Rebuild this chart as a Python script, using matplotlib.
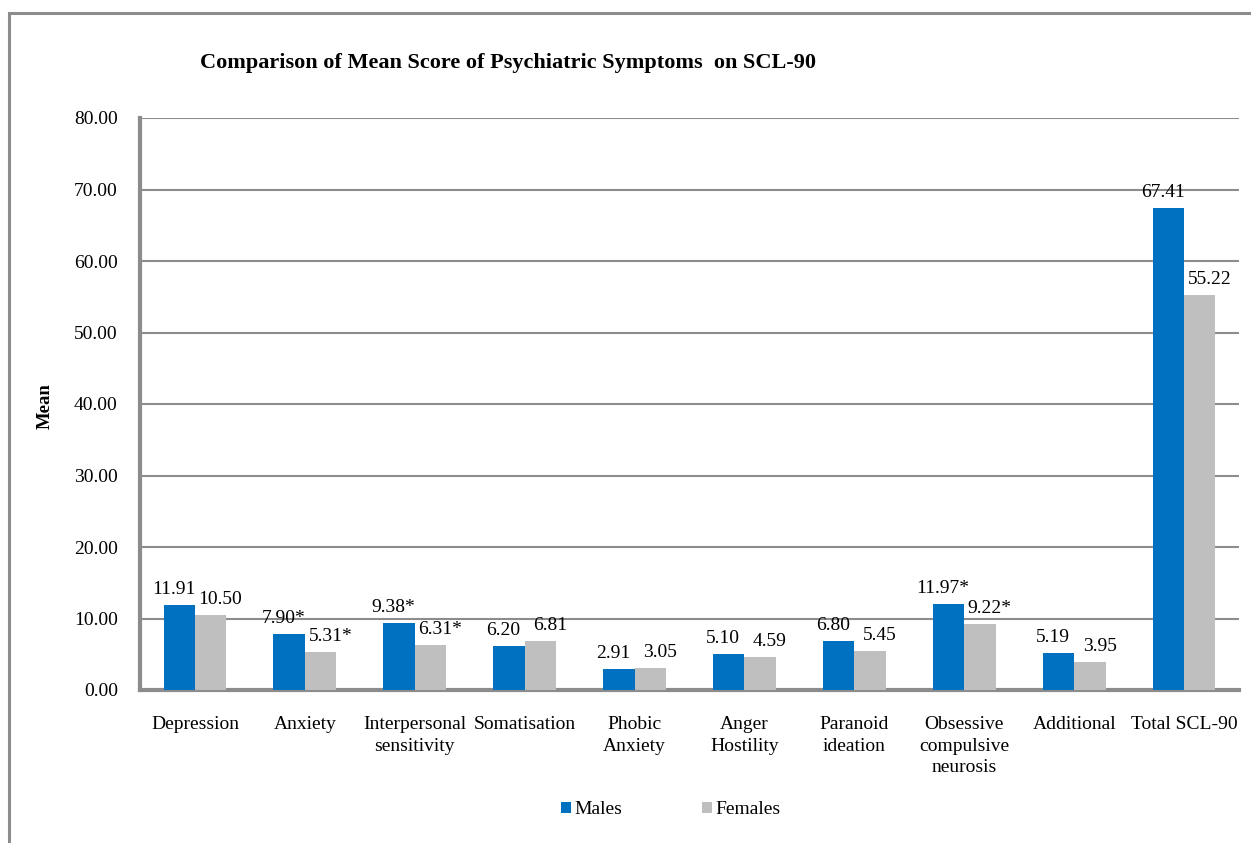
import matplotlib
matplotlib.use("Agg")
import matplotlib.pyplot as plt
import numpy as np
from matplotlib.patches import Rectangle

categories = ["Depression", "Anxiety", "Interpersonal\nsensitivity", "Somatisation",
              "Phobic\nAnxiety", "Anger\nHostility", "Paranoid\nideation",
              "Obsessive\ncompulsive\nneurosis", "Additional", "Total SCL-90"]
males = [11.91, 7.90, 9.38, 6.20, 2.91, 5.10, 6.80, 11.97, 5.19, 67.41]
females = [10.50, 5.31, 6.31, 6.81, 3.05, 4.59, 5.45, 9.22, 3.95, 55.22]
male_labels = ["11.91", "7.90*", "9.38*", "6.20", "2.91", "5.10", "6.80", "11.97*", "5.19", "67.41"]
female_labels = ["10.50", "5.31*", "6.31*", "6.81", "3.05", "4.59", "5.45", "9.22*", "3.95", "55.22"]
yticks = [0, 10, 20, 30, 40, 50, 60, 70, 80]

plt.rcParams['font.family'] = ['Liberation Serif', 'DejaVu Serif']

fig = plt.figure(figsize=(12.51, 8.43), dpi=100)
ax = fig.add_axes([140/1251, 1-690/843, (1239-140)/1251, (690-118)/843])

# outer frame
fig.patches.append(Rectangle((9/1251, -0.05), 1.1, 0.05 + 1 - 13/843, transform=fig.transFigure,
                             fill=False, edgecolor='#8c8c8c', linewidth=2.2, zorder=0))

x = np.arange(len(categories))
w = 0.286
blue = '#0070C0'
gray = '#BFBFBF'
fs = 14
bm = ax.bar(x - w/2, males, w, color=blue, label='Males', zorder=3)
bf = ax.bar(x + w/2, females, w, color=gray, label='Females', zorder=3)

for rect, lab in zip(bm, male_labels):
    ax.annotate(lab, (rect.get_x() + rect.get_width()/2, rect.get_height()),
                xytext=(-4, 5), textcoords='offset points', ha='center', va='bottom', fontsize=fs)
for rect, lab in zip(bf, female_labels):
    ax.annotate(lab, (rect.get_x() + rect.get_width()/2, rect.get_height()),
                xytext=(7, 5), textcoords='offset points', ha='center', va='bottom', fontsize=fs)

ax.set_xlim(-0.5, len(categories) - 0.5)
ax.set_ylim(0, 80)
ax.set_yticks(yticks)
ax.set_yticklabels([f"{v:.2f}" for v in yticks], fontsize=fs)
ax.set_xticks(x)
ax.set_xticklabels(categories, fontsize=fs, linespacing=1.32, va='top')
ax.tick_params(axis='both', length=0)
ax.tick_params(axis='x', pad=19)
ax.tick_params(axis='y', pad=16)

ax.yaxis.grid(True, color='#8c8c8c', linewidth=1.5, zorder=0)
ax.set_axisbelow(True)
for s in ['top', 'right']:
    ax.spines[s].set_visible(False)
for s in ['left', 'bottom']:
    ax.spines[s].set_color('#8c8c8c')
    ax.spines[s].set_linewidth(3)

fig.text(45/1251, 1-406/843, "Mean", rotation=90, ha='center', va='center',
         fontsize=13.5, fontweight='bold')
fig.text(200/1251, 1-63/843, "Comparison of Mean Score of Psychiatric Symptoms  on SCL-90",
         ha='left', va='center', fontsize=16, fontweight='bold')

fig.legend(handles=[bm, bf], labels=['Males', 'Females'], loc='center',
           bbox_to_anchor=(671/1251, 1-810/843), ncol=2, frameon=False, fontsize=fs,
           handlelength=0.5, handleheight=0.5, handletextpad=0.2, columnspacing=4.1)

fig.savefig("out.png", dpi=100)
